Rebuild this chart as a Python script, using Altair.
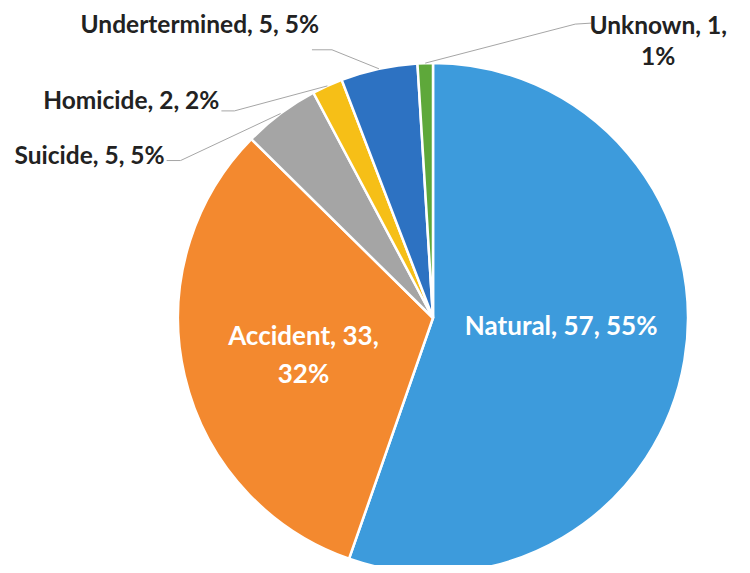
import math
import altair as alt
import pandas as pd

# ---- data ----
categories = ["Natural", "Accident", "Suicide", "Homicide", "Undertermined", "Unknown"]
counts = [57, 33, 5, 2, 5, 1]
percents = [55, 32, 5, 2, 5, 1]
colors = ["#3d9bdc", "#f3892f", "#a5a5a5", "#f6bf17", "#2d72c2", "#5ea83a"]

# ---- layout (styling, pixel units in plot coordinates) ----
CX, CY, R = 425, 310, 255
inside = {  # radius from centre, vertical nudge, line-break
    "Natural": (130, -13, "Natural, 57, 55%"),
    "Accident": (133, -11, "Accident, 33,|32%"),
}
outside = {  # label offset from slice edge, align, leader start offset, knee offset
    "Suicide": ((-116, 43), "right", (-114, 47), (-100, 47)),
    "Homicide": ((-108, 16), "right", (-106, 25), (-93, 25)),
    "Undertermined": ((-60, -43), "right", (-67, -19), (-47, -19)),
    "Unknown": ((233, -36), "center", (166, -40), (150, -39)),
}

total = sum(counts)
rows, lab_in, lab_out, lines = [], [], [], []
cum = 0
for i, (c, n, p) in enumerate(zip(categories, counts, percents)):
    mid = (cum + n / 2) / total * 2 * math.pi
    cum += n
    rows.append({"cat": c, "n": n, "idx": i})
    ex, ey = CX + R * math.sin(mid), CY - R * math.cos(mid)
    if c in inside:
        r, dy, txt = inside[c]
        lab_in.append({"x": CX + r * math.sin(mid), "y": CY - r * math.cos(mid) + dy, "t": txt})
    else:
        (lx, ly), al, (sx, sy), (kx, ky) = outside[c]
        txt = f"{c}, {n}, {p}%" if c != "Unknown" else f"{c}, {n},|{p}%"
        lab_out.append({"x": ex + lx, "y": ey + ly, "t": txt, "al": al})
        lines.append({"x": ex + sx, "y": ey + sy, "x2": ex + kx, "y2": ey + ky})
        lines.append({"x": ex + kx, "y": ey + ky, "x2": ex, "y2": ey})

df = pd.DataFrame(rows)
pie = alt.Chart(df).mark_arc(outerRadius=R, stroke="white", strokeWidth=2.5).encode(
    theta=alt.Theta("n:Q", stack=True),
    order=alt.Order("idx:Q"),
    color=alt.Color("cat:N", scale=alt.Scale(domain=categories, range=colors), legend=None),
    x=alt.value(CX),
    y=alt.value(CY),
)

leader = alt.Chart(pd.DataFrame(lines)).mark_rule(color="#a6a6a6", strokeWidth=1).encode(
    x=alt.X("x:Q", scale=None), y=alt.Y("y:Q", scale=None),
    x2="x2:Q", y2="y2:Q",
)

txt_in = alt.Chart(pd.DataFrame(lab_in)).mark_text(
    font="Lato", fontWeight="bold", fontSize=26, color="white", lineBreak="|",
    lineHeight=38, baseline="middle", align="center",
).encode(x=alt.X("x:Q", scale=None), y=alt.Y("y:Q", scale=None), text="t:N")

out_df = pd.DataFrame(lab_out)
txt_out_r = alt.Chart(out_df[out_df.al == "right"]).mark_text(
    font="Lato", fontWeight="bold", fontSize=24.5, color="#222222", lineBreak="|",
    lineHeight=31, baseline="middle", align="right",
).encode(x=alt.X("x:Q", scale=None), y=alt.Y("y:Q", scale=None), text="t:N")
txt_out_c = alt.Chart(out_df[out_df.al == "center"]).mark_text(
    font="Lato", fontWeight="bold", fontSize=24.5, color="#222222", lineBreak="|",
    lineHeight=31, baseline="middle", align="center",
).encode(x=alt.X("x:Q", scale=None), y=alt.Y("y:Q", scale=None), text="t:N")

chart = alt.layer(pie, leader, txt_in, txt_out_r, txt_out_c).properties(
    width=734, height=557, padding=0, autosize=alt.AutoSizeParams(type="none"),
).configure_view(strokeWidth=0)

chart.save("out.html", embed_options={"renderer": "svg", "actions": False})
